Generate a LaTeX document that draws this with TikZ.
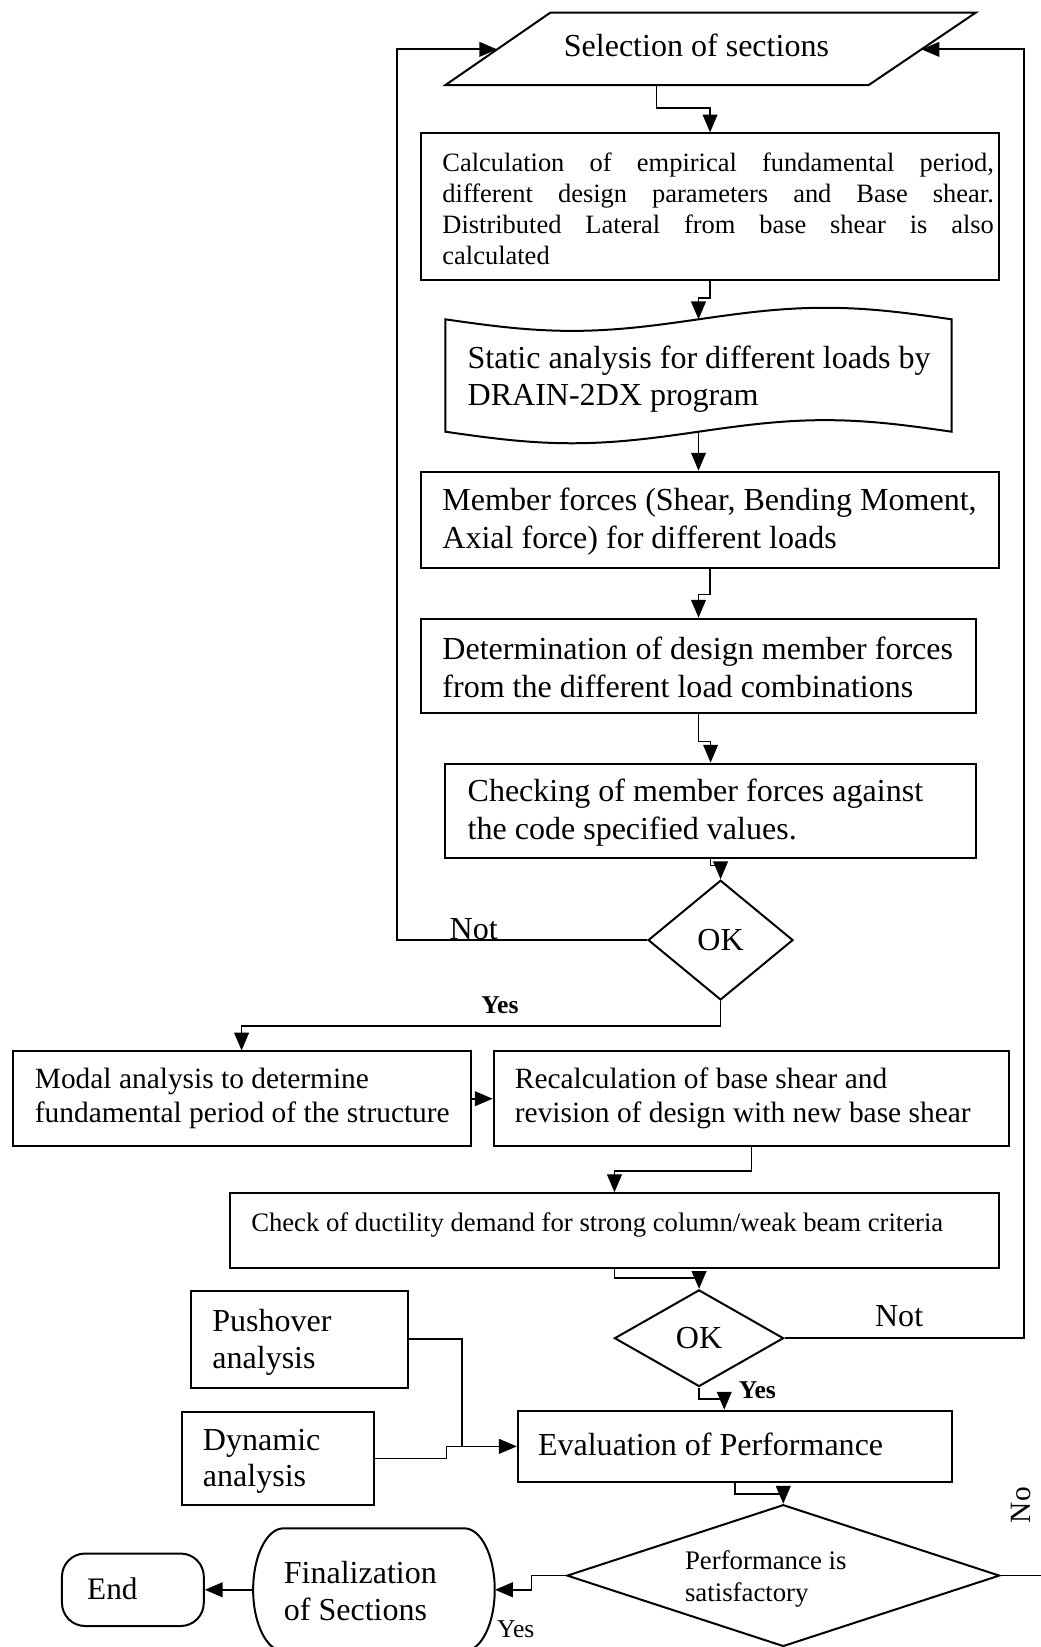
\documentclass[tikz,border=0pt]{standalone}
\usepackage{fontspec}
\setmainfont{Liberation Serif}
\usetikzlibrary{arrows.meta,shapes.geometric}
\begin{document}
\begin{tikzpicture}[x=1pt,y=-1pt,
  ln/.style={line width=1.7pt},
  arr/.style={line width=1.7pt,-{Triangle[length=17pt,width=14pt]}},
  box/.style={draw,line width=1.9pt,rectangle,inner sep=0pt},
  dia/.style={draw,line width=1.9pt,diamond,inner sep=0pt},
  txt/.style={inner sep=0pt,align=left,anchor=west},
  fA/.style={font=\fontsize{30.5}{36}\selectfont},
  fB/.style={font=\fontsize{25.2}{29.6}\selectfont},
  fC/.style={font=\fontsize{28}{32}\selectfont},
  lbl/.style={inner sep=0pt,anchor=base,font=\fontsize{24.4}{28}\selectfont\bfseries},
]
\useasboundingbox (0,0) rectangle (991,1568);
\clip (0,0) rectangle (991,1568);

% Selection of sections (parallelogram)
\coordinate (selBL) at (424,81);
\coordinate (selTL) at (524,12);
\coordinate (selTR) at (929,12);
\coordinate (selBR) at (827,81);
\draw[line width=1.9pt,line join=miter] (selBL) -- (selTL) -- (selTR) -- (selBR) -- cycle;
\node[fA,inner sep=0pt] (selt) at (663,43) {Selection of sections};
\coordinate (selB) at (625,81);
\coordinate (selL) at (473.3,47);
\coordinate (selR) at (877.3,47);

% boxes
\node[box,minimum width=550pt,minimum height=140pt] (calc) at (676,197) {};
\node[txt,fB,text width=525pt,align=justify] (calct) at (421,198.5) {Calculation of empirical fundamental period,\linebreak different design parameters and Base shear.\linebreak Distributed Lateral from base shear is also\linebreak calculated};

% static analysis (punched tape)
\draw[line width=1.9pt] plot[domain=424:906,samples=90] (\x,{304+11*sin((\x-424)/241*180)})
  -- plot[domain=906:424,samples=90] (\x,{411+11*sin((\x-424)/241*180)}) -- cycle;
\coordinate (statT) at (665,304);
\coordinate (statB) at (665,411);
\node[txt,fA] (statict) at (445,361) {Static analysis for different loads by\\DRAIN-2DX program};

\node[box,minimum width=550pt,minimum height=92pt] (member) at (676,495) {};
\node[txt,fA] (membert) at (421,496.5) {Member forces (Shear, Bending Moment,\\Axial force) for different loads};

\node[box,minimum width=528pt,minimum height=90pt] (determ) at (665,634) {};
\node[txt,fA] (determt) at (421,635.5) {Determination of design member forces\\from the different load combinations};

\node[box,minimum width=505pt,minimum height=90pt] (check) at (676.5,772) {};
\node[txt,fA] (checkt) at (445,773.5) {Checking of member forces against\\the code specified values.};

\node[dia,minimum width=138pt,minimum height=114pt,fA] (ok1) at (686,895) {OK};

\node[box,minimum width=436pt,minimum height=90pt] (modal) at (230,1046) {};
\node[txt,fC] (modalt) at (33,1045.5) {Modal analysis to determine\\fundamental period of the structure};

\node[box,minimum width=491pt,minimum height=90pt] (recalc) at (715.5,1046) {};
\node[txt,fC] (recalct) at (490,1045.5) {Recalculation of base shear and\\revision of design with new base shear};

\node[box,minimum width=732pt,minimum height=71pt] (check2) at (585,1171.5) {};
\node[txt,font=\fontsize{25.4}{30}\selectfont] (check2t) at (239,1166) {Check of ductility demand for strong column/weak beam criteria};

\node[dia,minimum width=161pt,minimum height=92pt,fA] (ok2) at (665.5,1274) {OK};

\node[box,minimum width=206pt,minimum height=92pt] (push) at (285,1275) {};
\node[txt,fA] (pusht) at (202,1278) {Pushover\\analysis};

\node[box,minimum width=183pt,minimum height=89pt] (dyn) at (264.5,1388.5) {};
\node[txt,font=\fontsize{30.5}{34}\selectfont] (dynt) at (193,1391) {Dynamic\\analysis};

\node[box,minimum width=413pt,minimum height=68pt] (eval) at (699.5,1377) {};
\node[txt,fA] (evalt) at (512,1375) {Evaluation of Performance};

\node[dia,minimum width=412pt,minimum height=135pt] (perf) at (745.7,1500) {};
\node[txt,font=\fontsize{25.5}{30}\selectfont] (perft) at (652,1503) {Performance is\\satisfactory};

% Finalization (stadium)
\node[minimum width=230pt,minimum height=117pt,inner sep=0pt] (final) at (356,1513.5) {};
\draw[line width=1.9pt] (270,1455) -- (442,1455)
  .. controls (458,1455) and (471,1481.2) .. (471,1513.5)
  .. controls (471,1545.8) and (458,1572) .. (442,1572)
  -- (270,1572)
  .. controls (254,1572) and (241,1545.8) .. (241,1513.5)
  .. controls (241,1481.2) and (254,1455) .. (270,1455) -- cycle;
\node[txt,font=\fontsize{30.5}{35}\selectfont] (finalt) at (270,1515) {Finalization\\of Sections};

\node[draw,line width=1.9pt,rounded corners=22pt,minimum width=135pt,minimum height=69pt,inner sep=0pt] (endn) at (126.5,1513.5) {};
\node[inner sep=0pt,font=\fontsize{29.8}{34}\selectfont] (endt) at (107,1513) {End};

% connectors
\draw[arr] (selB) -- ++(0,22) -| (calc.north);
\draw[arr] (calc.south) -- ++(0,16) -| (statT);
\draw[arr] (statB) -- (statB |- member.north);
\draw[arr] (member.south) -- ++(0,24) -| (determ.north);
\draw[arr] (determ.south) -- ++(0,26) -| (check.north);
\draw[arr] (check.south) -- ++(0,6) -| (ok1.north);
\coordinate (lcorner) at (378,47);
\draw[arr] (ok1.west) -| (lcorner) -- (selL);
\draw[arr] (ok1.south) -- ++(0,24) -| (modal.north);
\draw[arr] (modal.east) -- (recalc.west);
\draw[arr] (recalc.south) -- ++(0,23) -| (check2.north);
\draw[arr] (check2.south) -- ++(0,9) -| (ok2.north);
\coordinate (rcorner) at (975,47);
\draw[arr] (ok2.east) -| (rcorner) -- (selR);
\draw[arr] (ok2.south) -- ++(0,11) -| ([xshift=-10pt]eval.north);
\coordinate (pj) at (440,1377);
\draw[arr] (push.east) -| (pj) -- (eval.west);
\coordinate (dj) at (425,1377);
\draw[ln] (dyn.east) -| (dj) -- (pj);
\draw[arr] (eval.south) -- ++(0,10) -| (perf.north);
\coordinate (noend) at (991,1500);
\draw[ln] (perf.east) -- (noend);
\coordinate (fj) at (506,1500);
\draw[arr] (perf.west) -- (fj) |- (final.east);
\draw[arr] (final.west) -- (endn.east);

% labels
\node[fA,inner sep=0pt,anchor=base] (not1) at (451,894) {Not};
\node[fA,inner sep=0pt,anchor=base] (not2) at (856,1263) {Not};
\node[lbl] (yes1) at (476,965) {Yes};
\node[lbl] (yes2) at (721,1331) {Yes};
\node[inner sep=0pt,anchor=base,font=\fontsize{24.4}{28}\selectfont] (yes3) at (491,1559) {Yes};
\node[inner sep=0pt,rotate=90,font=\fontsize{28}{32}\selectfont] (no) at (972,1433) {No};
\end{tikzpicture}
\end{document}
